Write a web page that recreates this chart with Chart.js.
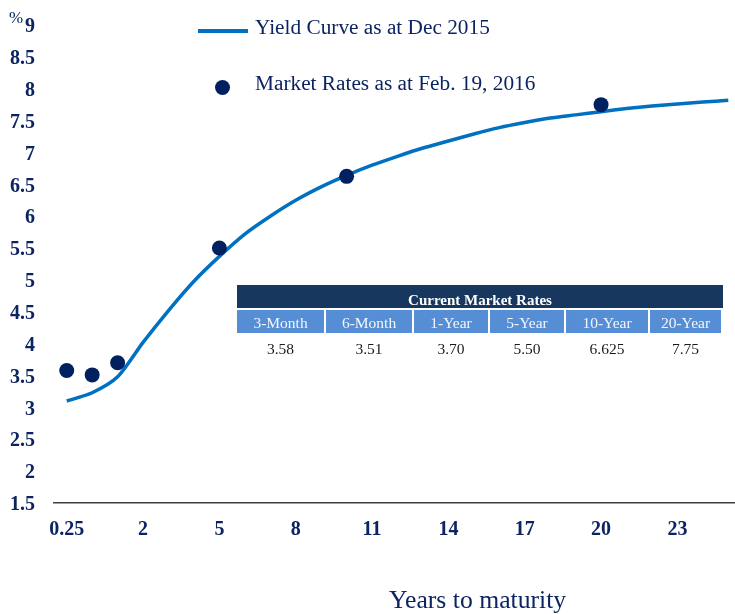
<!DOCTYPE html>
<html>
<head>
<meta charset="utf-8">
<script src="https://cdn.jsdelivr.net/npm/chart.js@4"></script>
<style>
  body { margin: 0; background: #fff; overflow: hidden; }
  #wrap { position: relative; width: 735px; height: 614px; font-family: "Liberation Serif", "Times New Roman", serif; color: #0c2461; overflow: hidden; }
  #grafico { position: absolute; left: 0; top: 0; }
  #pct { position: absolute; left: 9px; top: 8px; font-size: 17px; }
  .leg { position: absolute; font-size: 21.3px; white-space: nowrap; }
  .legLine { position: absolute; left: 198px; top: 29px; width: 50px; height: 4px; background: #0070c0; }
  .legDot { position: absolute; left: 215px; top: 80px; width: 15px; height: 15px; border-radius: 50%; background: #002060; }
  #xTitle { position: absolute; left: 389px; top: 585px; font-size: 25.7px; white-space: nowrap; }
  #rates { position: absolute; left: 237px; top: 285px; width: 486px; }
  #rates .head { background: #17375e; color: #fff; font-weight: bold; font-size: 15px; text-align: center; height: 23px; line-height: 30px; }
  #rates .row { display: flex; gap: 2px; margin-top: 2px; }
  #rates .cell { text-align: center; font-size: 15.5px; }
  #rates .sub .cell { background: #558ed5; color: #f4f6fb; height: 23px; line-height: 25px; }
  #rates .vals .cell { color: #1a1a1a; height: 24px; line-height: 28px; }
</style>
</head>
<body>
<div id="wrap">
  <!-- canvas a little wider than the window: the plot area runs past the right edge as in the original -->
  <canvas id="grafico" width="741" height="614"></canvas>
  <div id="pct">%</div>
  <div class="legLine"></div>
  <div class="leg" id="leg1" style="left:255px; top:15px;"></div>
  <div class="legDot"></div>
  <div class="leg" id="leg2" style="left:255px; top:71px;"></div>
  <div id="xTitle"></div>
  <div id="rates"></div>
</div>
<script>
document.addEventListener("DOMContentLoaded", function () {

    // maturities (years), one category each
    const maturities = [
        "0.25", "0.5", "1", "2", "3", "4", "5", "6", "7", "8",
        "9", "10", "11", "12", "13", "14", "15", "16", "17", "18",
        "19", "20", "21", "22", "23", "24", "25"
    ];

    // yield curve as at Dec 2015
    const yieldCurve = [
        3.10, 3.23, 3.48, 4.02, 4.52, 4.98, 5.37, 5.72, 6.00, 6.25,
        6.46, 6.64, 6.80, 6.94, 7.07, 7.18, 7.29, 7.39, 7.47, 7.54,
        7.59, 7.64, 7.69, 7.73, 7.76, 7.79, 7.82
    ];

    // market rates as at Feb. 19, 2016
    const rateTerms = ["3-Month", "6-Month", "1-Year", "5-Year", "10-Year", "20-Year"];
    const rateMaturities = ["0.25", "0.5", "1", "5", "10", "20"];
    const marketRates = [3.58, 3.51, 3.70, 5.50, 6.625, 7.75];
    const rateLabels = ["3.58", "3.51", "3.70", "5.50", "6.625", "7.75"];

    const yTicks = { min: 1.5, max: 9, step: 0.5 };

    const legendLine = "Yield Curve as at Dec 2015";
    const legendDots = "Market Rates as at Feb. 19, 2016";
    const xAxisTitle = "Years to maturity";
    const tableTitle = "Current Market Rates";

    const navy = "#0c2461";
    const colWidths = [87, 86, 74, 74, 82, 71];

    // texts
    document.getElementById("leg1").textContent = legendLine;
    document.getElementById("leg2").textContent = legendDots;
    document.getElementById("xTitle").textContent = xAxisTitle;

    // rates table
    const rates = document.getElementById("rates");
    const head = document.createElement("div");
    head.className = "head";
    head.textContent = tableTitle;
    rates.appendChild(head);
    const sub = document.createElement("div");
    sub.className = "row sub";
    const vals = document.createElement("div");
    vals.className = "row vals";
    rateTerms.forEach(function (t, i) {
        const c = document.createElement("div");
        c.className = "cell";
        c.style.width = colWidths[i] + "px";
        c.textContent = t;
        sub.appendChild(c);
        const v = document.createElement("div");
        v.className = "cell";
        v.style.width = colWidths[i] + "px";
        v.textContent = rateLabels[i];
        vals.appendChild(v);
    });
    rates.appendChild(sub);
    rates.appendChild(vals);

    // dots placed on their maturity category
    const marketData = maturities.map(function (m) {
        const k = rateMaturities.indexOf(m);
        return k >= 0 ? marketRates[k] : null;
    });

    const ctx = document.getElementById("grafico");

    new Chart(ctx, {
        type: "line",
        data: {
            labels: maturities,
            datasets: [
                {
                    label: legendDots,
                    data: marketData,
                    showLine: false,
                    pointRadius: 7.5,
                    pointBackgroundColor: "#002060",
                    pointBorderColor: "#002060",
                    pointBorderWidth: 0,
                    clip: false
                },
                {
                    label: legendLine,
                    data: yieldCurve,
                    borderColor: "#0070c0",
                    borderWidth: 3.5,
                    pointRadius: 0,
                    tension: 0.25,
                    clip: false
                }
            ]
        },
        options: {
            responsive: false,
            animation: false,
            layout: { padding: 0, autoPadding: false },
            plugins: {
                legend: { display: false },
                tooltip: { enabled: false }
            },
            scales: {
                x: {
                    offset: true,
                    grid: { display: false, drawTicks: false },
                    border: { display: true, color: "#404040", width: 1.5 },
                    ticks: {
                        autoSkip: false,
                        maxRotation: 0,
                        padding: 0,
                        color: navy,
                        font: { family: "Liberation Serif", size: 20, weight: "bold", lineHeight: 2.7 },
                        callback: function (v, i) { return i % 3 === 0 ? maturities[i] : ""; }
                    },
                    afterFit: function (s) {
                        s.height = 111;
                        s.paddingRight = 0;
                    }
                },
                y: {
                    min: yTicks.min,
                    max: yTicks.max,
                    grid: { display: false, drawTicks: false },
                    border: { display: false },
                    ticks: {
                        stepSize: yTicks.step,
                        padding: 19,
                        labelOffset: 2,
                        color: navy,
                        font: { family: "Liberation Serif", size: 20, weight: "bold" },
                        callback: function (v) { return String(v); }
                    },
                    afterFit: function (s) {
                        s.width = 54;
                        s.paddingTop = 25;
                    }
                }
            }
        }
    });

});
</script>
</body>
</html>
